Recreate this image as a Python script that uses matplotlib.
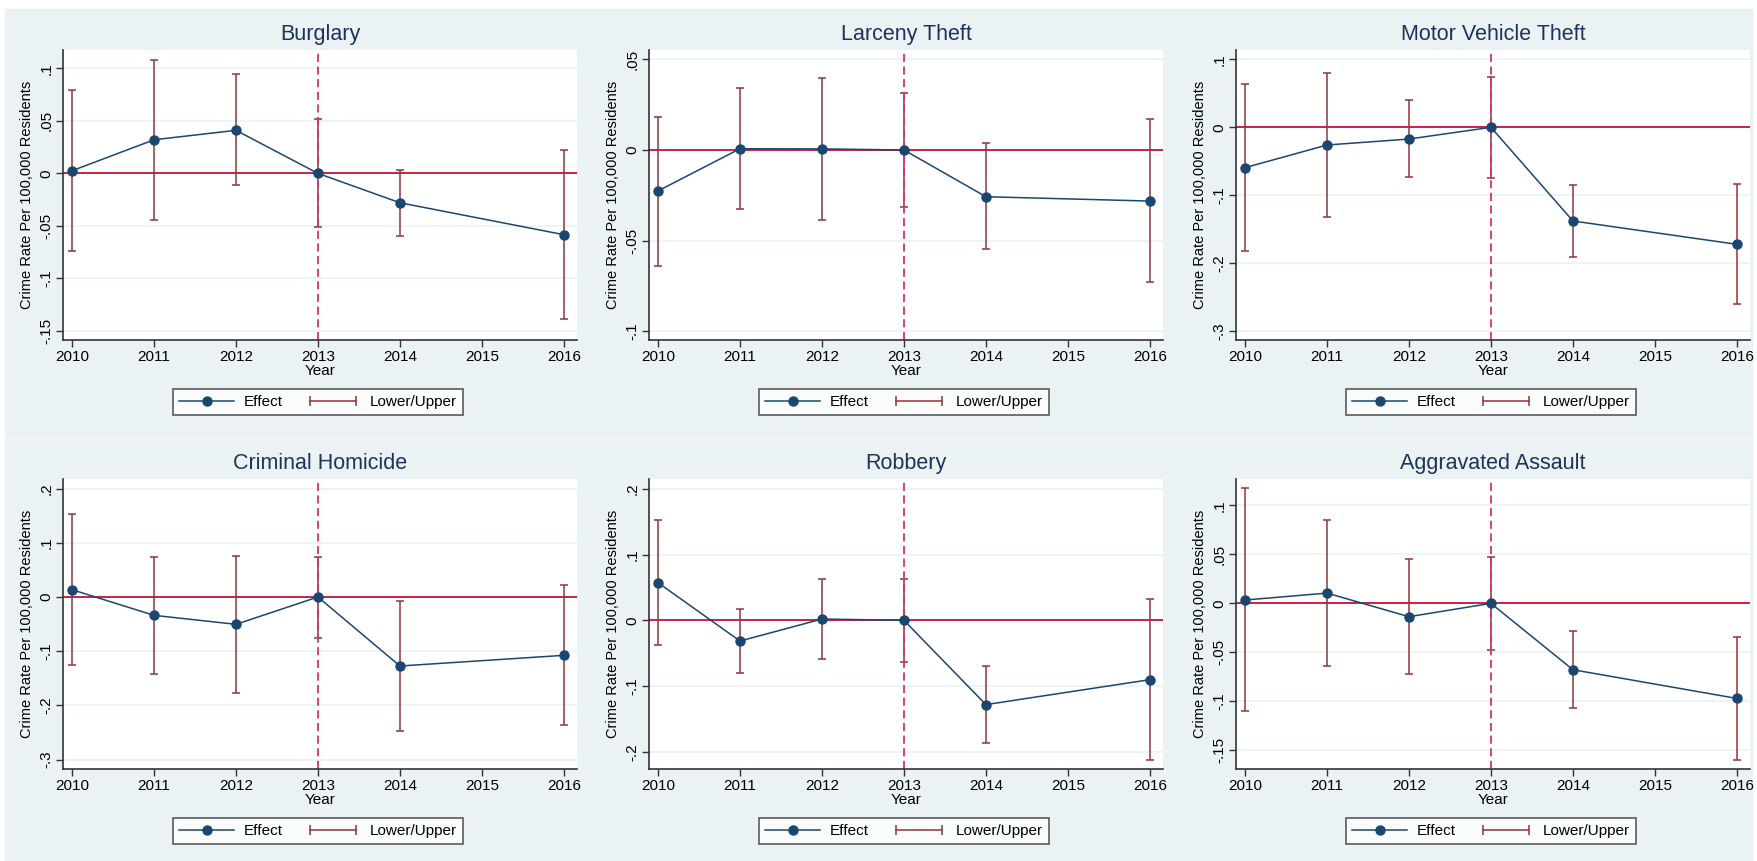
import matplotlib
matplotlib.use('Agg')
import matplotlib.pyplot as plt
from matplotlib.lines import Line2D
from matplotlib.patches import Rectangle
from matplotlib.legend_handler import HandlerLine2D
from matplotlib.ticker import FuncFormatter

plt.rcParams['font.family'] = ['Liberation Sans', 'DejaVu Sans']

# Event-study estimates (2015 has no estimate)
years = [2010, 2011, 2012, 2013, 2014, 2016]

burglary_eff = [0.0025, 0.032, 0.041, 0.0, -0.028, -0.0584]
burglary_lo = [-0.0737, -0.0444, -0.0114, -0.0511, -0.0594, -0.1387]
burglary_hi = [0.079, 0.108, 0.0946, 0.0514, 0.0035, 0.0222]

larceny_eff = [-0.0226, 0.0007, 0.0006, 0.0, -0.0258, -0.0282]
larceny_lo = [-0.0639, -0.0326, -0.0386, -0.0313, -0.0548, -0.0731]
larceny_hi = [0.0184, 0.034, 0.0397, 0.0315, 0.0037, 0.0171]

motor_eff = [-0.0593, -0.026, -0.0172, 0.0, -0.1377, -0.172]
motor_lo = [-0.1819, -0.1314, -0.0735, -0.0745, -0.190, -0.260]
motor_hi = [0.0642, 0.0804, 0.0402, 0.0745, -0.0843, -0.0833]

homicide_eff = [0.0135, -0.0338, -0.0504, 0.0, -0.1273, -0.1076]
homicide_lo = [-0.126, -0.1415, -0.1765, -0.075, -0.2466, -0.2368]
homicide_hi = [0.1525, 0.0744, 0.075, 0.0744, -0.0074, 0.0228]

robbery_eff = [0.0572, -0.0314, 0.002, 0.0, -0.128, -0.0901]
robbery_lo = [-0.037, -0.0805, -0.0587, -0.0628, -0.1868, -0.2116]
robbery_hi = [0.152, 0.0177, 0.0633, 0.0628, -0.0694, 0.0319]

assault_eff = [0.0034, 0.0105, -0.0136, 0.0, -0.0677, -0.097]
assault_lo = [-0.1102, -0.064, -0.0724, -0.0473, -0.1065, -0.1595]
assault_hi = [0.1173, 0.085, 0.0452, 0.0473, -0.0282, -0.0344]

xticks = [2010, 2011, 2012, 2013, 2014, 2015, 2016]

# title, data, y ticks (start, stop, step), y limits
panels = [
    ('Burglary', burglary_eff, burglary_lo, burglary_hi, (-0.15, 0.1, 0.05), (-0.1587, 0.1175)),
    ('Larceny Theft', larceny_eff, larceny_lo, larceny_hi, (-0.1, 0.05, 0.05), (-0.1049, 0.0552)),
    ('Motor Vehicle Theft', motor_eff, motor_lo, motor_hi, (-0.3, 0.1, 0.1), (-0.3127, 0.1137)),
    ('Criminal Homicide', homicide_eff, homicide_lo, homicide_hi, (-0.3, 0.2, 0.1), (-0.3173, 0.2177)),
    ('Robbery', robbery_eff, robbery_lo, robbery_hi, (-0.2, 0.2, 0.1), (-0.2258, 0.2147)),
    ('Aggravated Assault', assault_eff, assault_lo, assault_hi, (-0.15, 0.1, 0.05), (-0.169, 0.1269)),
]

BG = '#EAF2F3'
NAVY = '#1A476F'
MAROON = '#90353B'
ZERO_RED = '#C8123C'
DASH_RED = '#D8336A'
TITLE_C = '#1E3359'

W, H = 1757, 861
fig = plt.figure(figsize=(W / 100, H / 100), dpi=100)
fig.patch.set_facecolor('white')

# light graph-region backgrounds for the two rows
fig.patches.append(Rectangle((5 / W, 1 - 436.5 / H), 1747 / W, 427.5 / H,
                             transform=fig.transFigure, color=BG, zorder=-10))
fig.patches.append(Rectangle((5 / W, 0), 1747 / W, 1 - 438.5 / H,
                             transform=fig.transFigure, color=BG, zorder=-10))


def stata_fmt(v, pos=None):
    s = ('%.2f' % v).rstrip('0').rstrip('.')
    if s in ('-0', ''):
        s = '0'
    s = s.replace('0.', '.') if s.startswith('0.') or s.startswith('-0.') else s
    return s


col_left = [63, 649, 1236]
row_top = [50, 479]
ax_w, ax_h = 514, 290

for i, (title, eff, lo, hi, (t0, t1, step), ylim) in enumerate(panels):
    r, c = divmod(i, 3)
    left, top = col_left[c], row_top[r]
    ax = fig.add_axes([left / W, 1 - (top + ax_h) / H, ax_w / W, ax_h / H])
    ax.set_facecolor('white')

    n = int(round((t1 - t0) / step))
    yt = [round(t0 + k * step, 4) for k in range(n + 1)]
    ax.set_yticks(yt)
    ax.yaxis.set_major_formatter(FuncFormatter(stata_fmt))
    ax.grid(axis='y', color=BG, linewidth=1.2, zorder=0)
    ax.set_axisbelow(True)

    ax.axhline(0, color=ZERO_RED, linewidth=1.3, zorder=2)
    ax.axvline(2013, color=DASH_RED, linewidth=1.3, linestyle=(0, (4.5, 2.5)), zorder=2.5)

    yerr = [[e - l for e, l in zip(eff, lo)], [h - e for e, h in zip(eff, hi)]]
    ax.errorbar(years, eff, yerr=yerr, fmt='none', ecolor=MAROON, elinewidth=1.1,
                capsize=3.2, capthick=1.1, zorder=2)
    ax.plot(years, eff, color=NAVY, linewidth=1.1, marker='o', markersize=6.5,
            markerfacecolor=NAVY, markeredgecolor=NAVY, zorder=3)

    ax.set_xlim(2009.89, 2016.16)
    ax.set_ylim(*ylim)
    ax.set_xticks(xticks)

    for s in ('top', 'right'):
        ax.spines[s].set_visible(False)
    for s in ('left', 'bottom'):
        ax.spines[s].set_color('#333333')
        ax.spines[s].set_linewidth(1.2)
    ax.tick_params(axis='both', direction='out', length=5, width=1, color='#333333',
                   labelsize=11, labelcolor='black', pad=2)
    for lab in ax.get_yticklabels():
        lab.set_rotation(90)
        lab.set_va('center')

    ax.set_xlabel('Year', fontsize=11, labelpad=0)
    ax.set_ylabel('Crime Rate Per 100,000 Residents', fontsize=10.5, labelpad=4)
    ax.set_title(title, fontsize=15.5, color=TITLE_C, pad=7)

    h_eff = Line2D([], [], color=NAVY, linewidth=1.1, marker='o', markersize=6.5)
    h_ci = Line2D([], [], color=MAROON, linewidth=1.1, marker='|', markersize=7,
                  markeredgewidth=1.1)
    cx = (left + 255) / W
    cy = 1 - (top + 352) / H
    leg = ax.legend([h_eff, h_ci], ['Effect', 'Lower/Upper'], ncol=2, loc='center',
                    bbox_to_anchor=(cx, cy), bbox_transform=fig.transFigure,
                    fontsize=11, frameon=True, fancybox=False, edgecolor='#333333',
                    handlelength=3.6, handletextpad=0.6, columnspacing=1.5,
                    borderpad=0.4, borderaxespad=0,
                    handler_map={h_eff: HandlerLine2D(numpoints=1),
                                 h_ci: HandlerLine2D(numpoints=2)})
    leg.get_frame().set_linewidth(1.2)

fig.savefig('out.png', dpi=100, facecolor='white')
